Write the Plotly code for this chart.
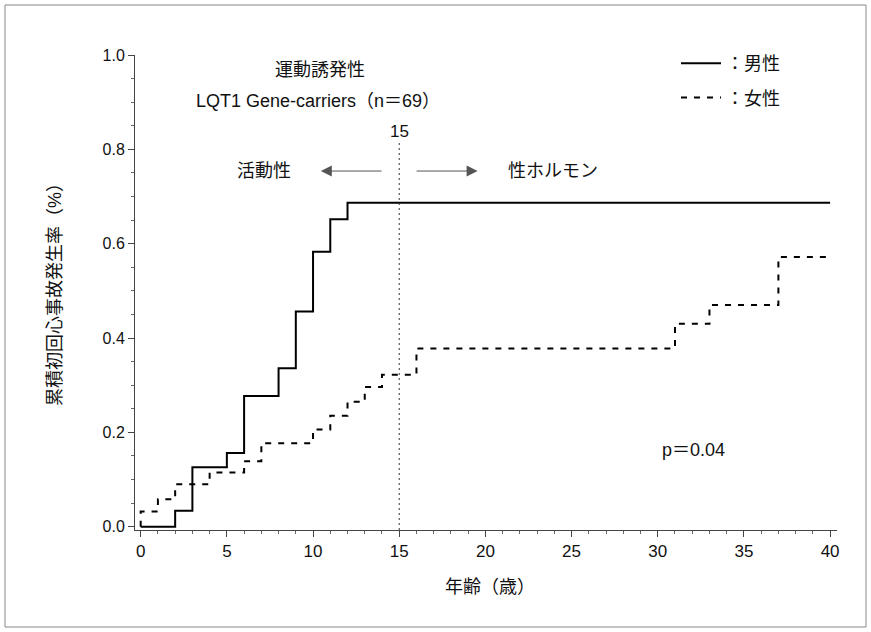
import plotly.graph_objects as go

# Data
male_age = [0, 2, 3, 5, 6, 8, 9, 10, 11, 12, 40]
male_rate = [0.0, 0.034, 0.126, 0.156, 0.277, 0.336, 0.456, 0.583, 0.652, 0.687, 0.687]
female_age = [0, 0, 1, 2, 4, 6, 7, 10, 11, 12, 13, 14, 16, 31, 33, 37, 40]
female_rate = [0.0, 0.032, 0.058, 0.09, 0.115, 0.139, 0.177, 0.206, 0.235, 0.265, 0.296,
               0.322, 0.378, 0.43, 0.47, 0.572, 0.572]
x_ticks = [0, 5, 10, 15, 20, 25, 30, 35, 40]
y_ticks = [0.0, 0.2, 0.4, 0.6, 0.8, 1.0]
y_tick_labels = ["0.0", "0.2", "0.4", "0.6", "0.8", "1.0"]
cutoff_age = 15

FONT = "Liberation Sans, Arial, Noto Sans CJK JP, sans-serif"
TXT = 18

fig = go.Figure()
fig.add_trace(go.Scatter(x=male_age, y=male_rate, mode="lines", line_shape="hv",
                         line=dict(color="black", width=2), name="：男性",
                         legendgroup="m"))
fig.add_trace(go.Scatter(x=female_age, y=female_rate, mode="lines", line_shape="hv",
                         line=dict(color="black", width=2, dash="6px,7px"), name="：女性",
                         legendgroup="f"))

# vertical dashed line at age 15
fig.add_shape(type="line", x0=cutoff_age, x1=cutoff_age, y0=-0.007, y1=0.82,
              xref="x", yref="y", line=dict(color="#333", width=1, dash="2px,3px"))

# outer frame
fig.add_shape(type="rect", xref="paper", yref="paper",
              x0=(5 - 135) / 702, x1=(866 - 135) / 702,
              y0=(530 - 627) / 475, y1=(530 - 5) / 475,
              line=dict(color="#888", width=1))

ann = []
def txt(x, y, s, size=TXT):
    ann.append(dict(x=x, y=y, xref="x", yref="y", text=s, showarrow=False,
                    xanchor="center", yanchor="middle",
                    font=dict(size=size, color="#111", family=FONT)))

txt(10.41, 0.968, "運動誘発性")
txt(10.3, 0.902, "LQT1 Gene-carriers（n＝69）")
txt(15, 0.837, "15", 17)
txt(7.15, 0.754, "活動性")
txt(23.93, 0.754, "性ホルモン")
txt(32.1, 0.163, "p＝0.04")

# arrows
ann.append(dict(x=10.45, y=0.754, ax=14.06, ay=0.754, xref="x", yref="y", axref="x", ayref="y",
                text="", showarrow=True, arrowhead=2, arrowsize=2.2, arrowwidth=1,
                arrowcolor="#555"))
ann.append(dict(x=19.55, y=0.754, ax=15.92, ay=0.754, xref="x", yref="y", axref="x", ayref="y",
                text="", showarrow=True, arrowhead=2, arrowsize=2.2, arrowwidth=1,
                arrowcolor="#555"))

# axis titles
ann.append(dict(x=(55 - 135) / 702, y=(530 - 290) / 475, xref="paper", yref="paper",
                xanchor="center", yanchor="middle",
                text="累積初回心事故発生率（%）", textangle=-90, showarrow=False,
                font=dict(size=TXT, color="#111", family=FONT)))
ann.append(dict(x=(490 - 135) / 702, y=(530 - 587) / 475, xref="paper", yref="paper",
                xanchor="center", yanchor="middle",
                text="年齢（歳）", showarrow=False,
                font=dict(size=TXT, color="#111", family=FONT)))

fig.update_layout(
    width=871, height=632,
    margin=dict(l=135, r=34, t=55, b=102),
    paper_bgcolor="white", plot_bgcolor="white",
    font=dict(family=FONT, size=17, color="#111"),
    annotations=ann,
    showlegend=True,
    legend=dict(x=(676 - 135) / 702, y=(530 - 45) / 475, xanchor="left", yanchor="top",
                bgcolor="rgba(0,0,0,0)",
                font=dict(size=TXT, family=FONT), tracegroupgap=8,
                traceorder="grouped", itemwidth=40),
    xaxis=dict(range=[-0.33, 40.4], tickvals=x_ticks, showgrid=False, zeroline=False,
               showline=True, linecolor="#444", linewidth=1,
               ticks="outside", ticklen=6, tickcolor="#444",
               minor=dict(dtick=1, ticks="outside", ticklen=3, tickcolor="#666"),
               tickfont=dict(size=17, family=FONT)),
    yaxis=dict(range=[-0.007, 1.0], tickvals=y_ticks, ticktext=y_tick_labels,
               showgrid=False, zeroline=False,
               showline=True, linecolor="#444", linewidth=1,
               ticks="outside", ticklen=6, tickcolor="#444",
               minor=dict(dtick=0.05, ticks="outside", ticklen=3, tickcolor="#666"),
               tickfont=dict(size=16, family=FONT)),
)

fig.write_html("out.html")
